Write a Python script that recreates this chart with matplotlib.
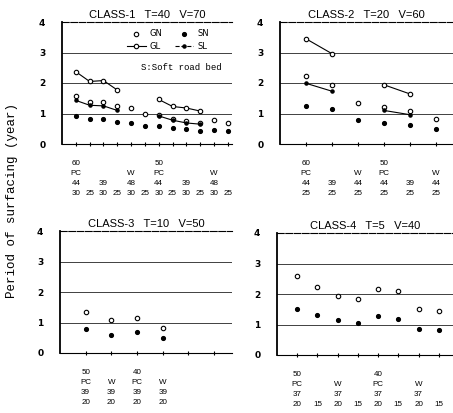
import matplotlib.pyplot as plt
from matplotlib.lines import Line2D

# ---- CLASS-1  T=40  V=70 (12 positions)
c1_pos = list(range(1, 13))
c1_gn = [1.58, 1.37, 1.37, 1.23, 1.18, 0.99, 0.96, 0.83, 0.76, 0.70, 0.78, 0.69]
c1_sn = [0.91, 0.83, 0.81, 0.72, 0.69, 0.59, 0.58, 0.51, 0.48, 0.43, 0.45, 0.42]
c1_gl_a = [2.37, 2.05, 2.08, 1.77]
c1_gl_b = [1.46, 1.23, 1.18, 1.08]
c1_sl_a = [1.43, 1.27, 1.25, 1.10]
c1_sl_b = [0.92, 0.78, 0.69, 0.65]
c1_labels = [
    ['60', '', '', '', '', '', '50', '', '', '', '', ''],
    ['PC', '', '', '', 'W', '', 'PC', '', '', '', 'W', ''],
    ['44', '', '39', '', '48', '', '44', '', '39', '', '48', ''],
    ['30', '25', '30', '25', '30', '25', '30', '25', '30', '25', '30', '25'],
]

# ---- CLASS-2  T=20  V=60 (6 positions)
c2_pos = list(range(1, 7))
c2_gn = [2.23, 1.94, 1.34, 1.21, 1.08, 0.83]
c2_sn = [1.26, 1.14, 0.78, 0.69, 0.62, 0.49]
c2_gl_a = [3.45, 2.96]
c2_gl_b = [1.94, 1.64]
c2_sl_a = [1.99, 1.73]
c2_sl_b = [1.10, 0.96]
c2_labels = [
    ['60', '', '', '50', '', ''],
    ['PC', '', 'W', 'PC', '', 'W'],
    ['44', '39', '44', '44', '39', '44'],
    ['25', '25', '25', '25', '25', '25'],
]

# ---- CLASS-3  T=10  V=50 (6 ticks, 4 used)
c3_pos = [1, 2, 3, 4]
c3_gn = [1.34, 1.09, 1.16, 0.82]
c3_sn = [0.79, 0.60, 0.70, 0.48]
c3_labels = [
    ['50', '', '40', ''],
    ['PC', 'W', 'PC', 'W'],
    ['39', '39', '39', '39'],
    ['20', '20', '20', '20'],
]

# ---- CLASS-4  T=5  V=40 (8 positions)
c4_pos = list(range(1, 9))
c4_gn = [2.59, 2.22, 1.95, 1.82, 2.16, 2.09, 1.51, 1.43]
c4_sn = [1.51, 1.30, 1.16, 1.06, 1.29, 1.19, 0.86, 0.81]
c4_labels = [
    ['50', '', '', '', '40', '', '', ''],
    ['PC', '', 'W', '', 'PC', '', 'W', ''],
    ['37', '', '37', '', '37', '', '37', ''],
    ['20', '15', '20', '15', '20', '15', '20', '15'],
]

W, H = 453, 413
fig = plt.figure(figsize=(W / 100, H / 100), dpi=100)


def make_ax(left, right, top, bottom):
    return fig.add_axes([left / W, 1 - bottom / H, (right - left) / W, (bottom - top) / H])


def style(ax, title, nticks, xmax, labels, pos):
    ax.set_ylim(0, 4)
    ax.set_xlim(0, xmax)
    for v in (1, 2, 3):
        ax.axhline(v, color='0.25', lw=0.7, zorder=0)
    ax.spines['right'].set_visible(False)
    ax.spines['left'].set_linewidth(1.3)
    ax.spines['top'].set_linewidth(0.8)
    ax.spines['top'].set_linestyle((0, (6, 1.5)))
    ax.spines['bottom'].set_linewidth(0.8)
    ax.set_yticks([0, 1, 2, 3, 4])
    ax.set_yticklabels(['0', '1', '2', '3', '4'], fontsize=6.5, fontweight='bold')
    ax.tick_params(axis='y', length=0, pad=12)
    ax.set_xticks(range(1, nticks + 1))
    ax.set_xticklabels([])
    ax.tick_params(axis='x', direction='inout', length=3, width=0.8)
    ax.set_title(title, fontsize=8, family='Liberation Sans', pad=3)
    # stacked condition labels under each position
    for r, row in enumerate(labels):
        for p, s in zip(pos, row):
            if s:
                ax.annotate(s, xy=(p, 0), xycoords=('data', 'axes fraction'),
                            xytext=(0, -13.7 - r * 7.4), textcoords='offset points',
                            ha='center', va='center', fontsize=5.8,
                            family='Liberation Sans')


ms = 3.2
gn_kw = dict(ls='none', marker='o', ms=ms, mfc='white', mec='black', mew=0.8)
sn_kw = dict(ls='none', marker='o', ms=ms * 0.85, mfc='black', mec='black')
gl_kw = dict(color='black', lw=0.8, marker='o', ms=ms, mfc='white', mec='black', mew=0.8)
sl_kw = dict(color='black', lw=0.8, marker='o', ms=ms * 0.7, mfc='black', mec='black')

# CLASS-1
ax1 = make_ax(62, 232, 22, 144)
ax1.plot(c1_pos, c1_gn, **gn_kw)
ax1.plot(c1_pos, c1_sn, **sn_kw)
ax1.plot(c1_pos[0:4], c1_gl_a, **gl_kw)
ax1.plot(c1_pos[6:10], c1_gl_b, **gl_kw)
ax1.plot(c1_pos[0:4], c1_sl_a, **sl_kw)
ax1.plot(c1_pos[6:10], c1_sl_b, **sl_kw)
style(ax1, 'CLASS-1   T=40   V=70', 12, 12.3, c1_labels, c1_pos)
handles = [Line2D([], [], **gn_kw), Line2D([], [], **gl_kw),
           Line2D([], [], **sn_kw), Line2D([], [], ls='--', **sl_kw)]
ax1.legend(handles, ['GN', 'GL', 'SN', 'SL'], ncol=2, frameon=False, fontsize=6,
           loc='upper right', bbox_to_anchor=(0.91, 1.0), handlelength=2.2,
           columnspacing=1.5, labelspacing=0.4, handletextpad=0.5)
ax1.text(5.7, 2.5, 'S:Soft road bed', fontsize=6.5, family='Liberation Mono', va='center')

# CLASS-2
ax2 = make_ax(280, 453, 22, 144)
ax2.plot(c2_pos, c2_gn, **gn_kw)
ax2.plot(c2_pos, c2_sn, **sn_kw)
ax2.plot(c2_pos[0:2], c2_gl_a, **gl_kw)
ax2.plot(c2_pos[3:5], c2_gl_b, **gl_kw)
ax2.plot(c2_pos[0:2], c2_sl_a, **sl_kw)
ax2.plot(c2_pos[3:5], c2_sl_b, **sl_kw)
style(ax2, 'CLASS-2   T=20   V=60', 6, 6.65, c2_labels, c2_pos)

# CLASS-3
ax3 = make_ax(60, 232, 231, 353)
ax3.plot(c3_pos, c3_gn, **gn_kw)
ax3.plot(c3_pos, c3_sn, **sn_kw)
style(ax3, 'CLASS-3   T=10   V=50', 6, 6.7, c3_labels, c3_pos)

# CLASS-4
ax4 = make_ax(277, 453, 233, 355)
ax4.plot(c4_pos, c4_gn, **gn_kw)
ax4.plot(c4_pos, c4_sn, **sn_kw)
style(ax4, 'CLASS-4   T=5   V=40', 8, 8.7, c4_labels, c4_pos)

fig.text(12 / W, 1 - 200 / H, 'Period of surfacing (year)', rotation=90,
         ha='center', va='center', fontsize=9, family='Liberation Mono')

fig.savefig('out.png', dpi=100)
